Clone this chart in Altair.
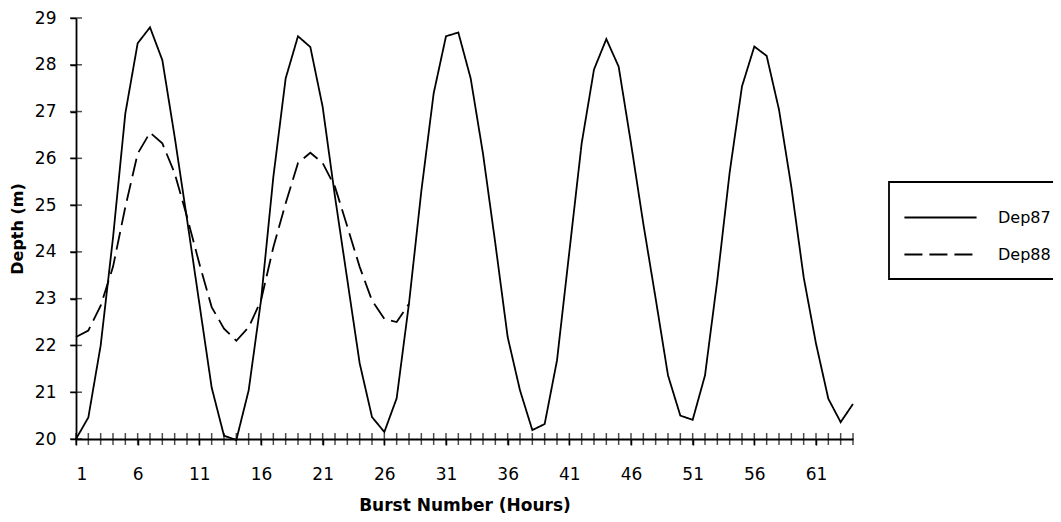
import altair as alt
import pandas as pd

# ---- data ----
bursts87 = list(range(1, 65))
dep87 = [20.0, 20.46, 22.0, 24.3, 26.96, 28.46, 28.8, 28.1, 26.46, 24.7,
         22.9, 21.1, 20.07, 19.98, 21.04, 22.96, 25.6, 27.71, 28.61, 28.38,
         27.1, 25.18, 23.4, 21.62, 20.47, 20.15, 20.87, 22.9, 25.3, 27.39,
         28.61, 28.69, 27.71, 26.1, 24.18, 22.18, 21.04, 20.19, 20.32, 21.68,
         24.0, 26.32, 27.9, 28.55, 27.96, 26.32, 24.6, 23.0, 21.36, 20.5,
         20.41, 21.36, 23.4, 25.7, 27.54, 28.39, 28.19, 27.04, 25.39, 23.46,
         22.04, 20.86, 20.36, 20.75]
bursts88 = list(range(1, 29))
dep88 = [22.18, 22.32, 22.85, 23.68, 24.96, 26.1, 26.55, 26.32, 25.68, 24.75,
         23.75, 22.82, 22.36, 22.1, 22.39, 22.96, 24.1, 25.04, 25.9, 26.12,
         25.9, 25.39, 24.54, 23.68, 22.96, 22.57, 22.5, 22.89]
series_names = ["Dep87", "Dep88"]
x_label_values = [1, 6, 11, 16, 21, 26, 31, 36, 41, 46, 51, 56, 61]
x_tick_values = list(range(1, 65))
y_tick_values = list(range(20, 30))

df = pd.concat([
    pd.DataFrame({"burst": bursts87, "depth": dep87, "series": series_names[0]}),
    pd.DataFrame({"burst": bursts88, "depth": dep88, "series": series_names[1]}),
])
xt = pd.DataFrame({"burst": x_tick_values, "depth": [20] * len(x_tick_values)})
yt = pd.DataFrame({"burst": [1] * len(y_tick_values), "depth": y_tick_values})

FONT = "DejaVu Sans"
x_scale = alt.Scale(domain=[1, 64], nice=False, zero=False)
y_scale = alt.Scale(domain=[20, 29], nice=False, zero=False)
x_axis = alt.Axis(values=x_label_values, labelPadding=21, titlePadding=15,
                  tickSize=6, titleFontSize=17)
y_axis = alt.Axis(values=y_tick_values, labelPadding=14, titlePadding=9,
                  tickSize=6, titleFontSize=16)
X_TITLE = "Burst Number (Hours)"
Y_TITLE = "Depth (m)"


def xenc():
    return alt.X("burst:Q", scale=x_scale, axis=x_axis, title=X_TITLE)


def yenc():
    return alt.Y("depth:Q", scale=y_scale, axis=y_axis, title=Y_TITLE)


lines = alt.Chart(df).mark_line(color="black", strokeWidth=1.8, clip=False).encode(
    x=xenc(),
    y=yenc(),
    strokeDash=alt.StrokeDash(
        "series:N",
        scale=alt.Scale(domain=series_names, range=[[1, 0], [18, 7]]),
        legend=alt.Legend(title=None, orient="none", legendX=813, legendY=164,
                          symbolType="M-1.95,0H1.95", symbolSize=1369,
                          symbolStrokeWidth=1.8, symbolStrokeColor="black",
                          symbolOffset=16, labelOffset=38, rowPadding=9,
                          padding=16, labelFontSize=16, labelFont=FONT,
                          labelColor="black", strokeColor="black"),
    ),
)

xticks = alt.Chart(xt).mark_tick(orient="vertical", size=12, thickness=1.5,
                                 color="black", clip=False).encode(x=xenc(), y=yenc())
yticks = alt.Chart(yt).mark_tick(orient="horizontal", size=12, thickness=1.5,
                                 color="black", clip=False).encode(x=xenc(), y=yenc())

chart = alt.layer(lines, xticks, yticks).properties(
    width=777, height=421,
    padding={"left": 68, "top": 10, "right": 200, "bottom": 75},
    autosize=alt.AutoSizeParams(type="none"),
    background="white",
).configure_view(stroke=None).configure_axis(
    grid=False, domainColor="black", domainWidth=1.8, tickColor="black",
    tickWidth=1.5, labelFont=FONT, labelFontSize=17, labelColor="black",
    titleFont=FONT, titleFontWeight="bold", titleColor="black",
).configure_legend(strokeWidth=1.8)

chart.save("out.html", embed_options={"renderer": "svg", "actions": False})
